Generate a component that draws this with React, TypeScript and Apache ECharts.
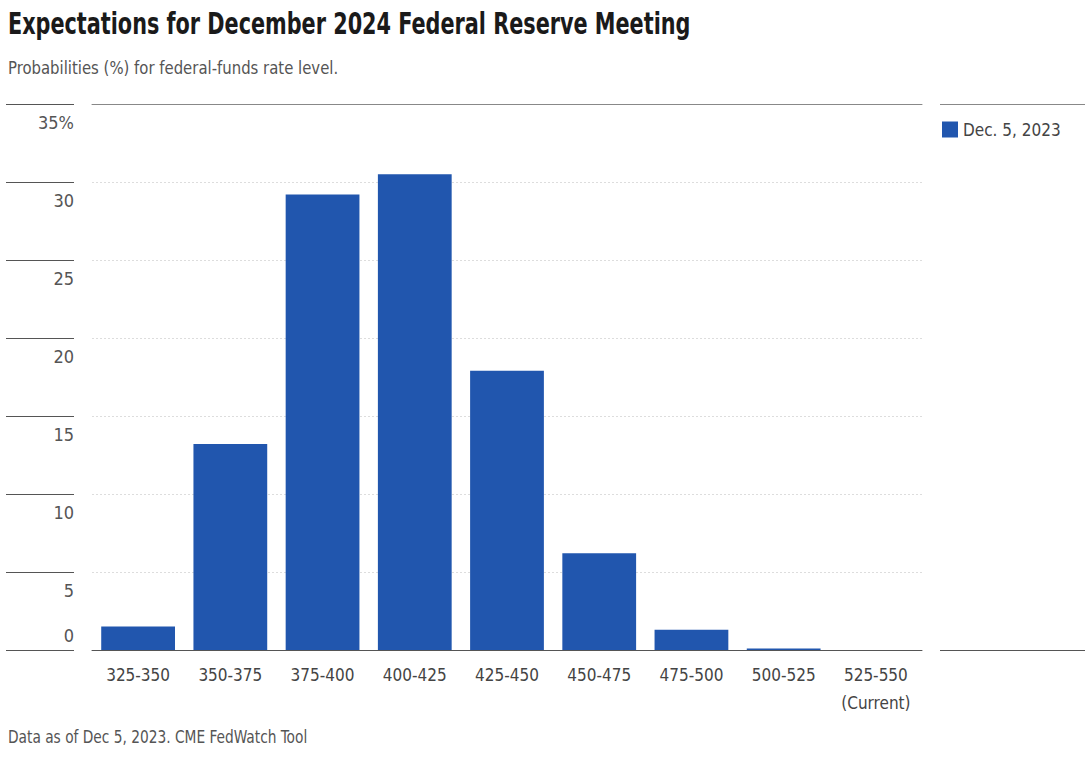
import React, { useEffect, useRef } from "react";
import * as echarts from "echarts";

const categories = ["325-350", "350-375", "375-400", "400-425", "425-450", "450-475", "475-500", "500-525", "525-550\n(Current)"];
const probabilities = [1.5, 13.2, 29.2, 30.5, 17.9, 6.2, 1.3, 0.1, 0.0];
const seriesName = "Dec. 5, 2023";
const titleText = "Expectations for December 2024 Federal Reserve Meeting";
const subtitleText = "Probabilities (%) for federal-funds rate level.";
const footerText = "Data as of Dec 5, 2023. CME FedWatch Tool";

const FONT = "'DejaVu Sans Condensed', 'DejaVu Sans', sans-serif";

export default function App() {
  const ref = useRef<HTMLDivElement>(null);
  useEffect(() => {
    if (!ref.current) return;
    const chart = echarts.init(ref.current, null, { renderer: "svg" });
    chart.setOption({
      animation: false,
      backgroundColor: "#ffffff",
      textStyle: { fontFamily: FONT },
      legend: {
        left: 937, top: 116, icon: "rect", itemWidth: 16, itemHeight: 16, itemGap: 6,
        textStyle: { fontFamily: FONT, fontSize: 17, color: "#444" },
        data: [seriesName],
      },
      grid: { left: 92, right: 165, top: 104, bottom: 108, containLabel: false },
      xAxis: [
        {
          type: "category", data: categories, position: "bottom",
          axisLine: { onZero: false, lineStyle: { color: "#555", width: 1 } },
          axisTick: { show: false },
          axisLabel: { fontFamily: FONT, fontSize: 17, color: "#444", margin: 11, lineHeight: 28, interval: 0 },
        },
        {
          type: "category", data: categories, position: "top",
          axisLine: { onZero: false, lineStyle: { color: "#888", width: 1 } },
          axisTick: { show: false }, axisLabel: { show: false },
        },
      ],
      yAxis: [
        {
          type: "value", min: 0, max: 35, interval: 5, position: "left", offset: 18,
          axisLine: { show: false },
          axisTick: { show: true, length: 68, lineStyle: { color: "#555", width: 1 } },
          splitLine: { show: true, showMinLine: false, showMaxLine: false, lineStyle: { type: [2, 2], color: "#ddd" } },
          axisLabel: {
            fontFamily: FONT, fontSize: 18, color: "#555", margin: 0, verticalAlign: "top", padding: [9, 0, 0, 0],
            formatter: (v: number) => (v === 35 ? "35%" : v === 0 ? "" : String(v)),
          },
        },
        {
          type: "value", min: 0, max: 35, interval: 5, position: "left", offset: 18,
          axisLine: { show: false }, axisTick: { show: false }, splitLine: { show: false },
          axisLabel: {
            fontFamily: FONT, fontSize: 18, color: "#555", margin: 0, verticalAlign: "bottom", padding: [0, 0, 6, 0],
            formatter: (v: number) => (v === 0 ? "0" : ""),
          },
        },
      ],
      series: [
        {
          name: seriesName, type: "bar", data: probabilities, xAxisIndex: 0, yAxisIndex: 0,
          barCategoryGap: "20%", itemStyle: { color: "#2156ae" },
        },
      ],
      graphic: [
        {
          type: "text", x: 8, y: 23, scaleX: 0.77,
          style: { text: titleText, fontFamily: FONT, fontSize: 30, fontWeight: "bold", fill: "#1a1a1a", textVerticalAlign: "middle" },
        },
        {
          type: "text", x: 8, y: 68, scaleX: 0.92,
          style: { text: subtitleText, fontFamily: FONT, fontSize: 18, fill: "#555", textVerticalAlign: "middle" },
        },
        {
          type: "text", x: 8, y: 737, scaleX: 0.9,
          style: { text: footerText, fontFamily: FONT, fontSize: 17, fill: "#555", textVerticalAlign: "middle" },
        },
        { type: "line", shape: { x1: 940, y1: 104.5, x2: 1085, y2: 104.5 }, style: { stroke: "#888", lineWidth: 1 } },
        { type: "line", shape: { x1: 940, y1: 650.5, x2: 1085, y2: 650.5 }, style: { stroke: "#555", lineWidth: 1 } },
      ],
    });
    return () => chart.dispose();
  }, []);
  return <div ref={ref} style={{ position: "fixed", left: 0, top: 0, width: 1087, height: 758 }} />;
}
